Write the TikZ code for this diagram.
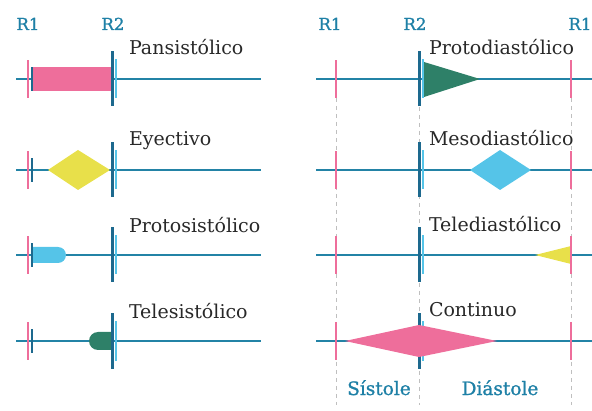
\documentclass[tikz,border=0pt]{standalone}
\usepackage{fontspec}
\setmainfont{DejaVu Serif}
\newfontfamily\labelfont[FakeBold=1.2]{DejaVu Serif}
\usepackage{tikz}
\usetikzlibrary{positioning}
\definecolor{axisblue}{RGB}{35,131,166}
\definecolor{darktick}{RGB}{29,105,142}
\definecolor{lightblue}{RGB}{85,196,232}
\definecolor{murmurpink}{RGB}{238,110,155}
\definecolor{murmuryellow}{RGB}{232,224,74}
\definecolor{murmurgreen}{RGB}{46,128,104}
\definecolor{labelteal}{RGB}{30,128,166}
\definecolor{nametext}{RGB}{40,40,40}
\pgfdeclarelayer{background}
\pgfsetlayers{background,main}
\tikzset{
  phonopic/.style={
    x=1pt,y=1pt
    ,inner sep=0pt
    ,outer sep=0pt
  }
  ,axis/.style={draw=axisblue,line width=2pt}
  ,guide/.style={draw=black!25,line width=.6pt,dash pattern=on 4pt off 4pt}
  ,tickbar/.style={rectangle,inner sep=0pt,outer sep=0pt}
  ,rone/.style={tickbar,fill=murmurpink,minimum width=1.5pt,minimum height=38pt}
  ,ronedark/.style={tickbar,fill=darktick,minimum width=2.5pt,minimum height=24pt}
  ,rtwo/.style={tickbar,fill=darktick,minimum width=3pt,minimum height=55pt}
  ,rtwolight/.style={tickbar,fill=lightblue,minimum width=2.8pt,minimum height=39pt}
  ,rlabel/.style={anchor=base,font=\labelfont\fontsize{16.5}{18}\selectfont\color{labelteal}}
  ,phaselabel/.style={anchor=base,font=\labelfont\fontsize{18.5}{20}\selectfont\color{labelteal}}
  ,murmurname/.style={anchor=base west,font=\fontsize{19}{21}\selectfont\color{nametext}}
}

\begin{document}
\begin{tikzpicture}[phonopic]
  \useasboundingbox (0,0) rectangle (592,410);

  % heading marks
  \node[rlabel] (sysr1) at (28,380) {R1};
  \node[rlabel] (sysr2) at (113,380) {R2};
  \node[rlabel] (diar1) at (330,380) {R1};
  \node[rlabel] (diar2) at (415,380) {R2};
  \node[rlabel] (diar1b) at (580,380) {R1};

  % guides through the cycle
  \coordinate (g1top) at (336,312); \coordinate (g1bot) at (336,5);
  \coordinate (g2top) at (419,303); \coordinate (g2bot) at (419,5);
  \coordinate (g3top) at (571,312); \coordinate (g3bot) at (571,5);
  \begin{pgfonlayer}{background}
    \draw[guide] (g1top) -- (g1bot);
    \draw[guide] (g2top) -- (g2bot);
    \draw[guide] (g3top) -- (g3bot);
  \end{pgfonlayer}

  % pansistolico
  \coordinate (pan0) at (16,331); \coordinate (pan1) at (261,331);
  \draw[axis] (pan0) -- (pan1);
  \fill[murmurpink] (33,319) rectangle (111,343);
  \node[rone] (panr1) at (28,331) {};
  \node[ronedark] (panr1d) at (32,331) {};
  \node[rtwolight] (panr2l) at (116,331) {};
  \node[rtwo] (panr2) at (112,331) {};
  \node[murmurname] (panname) at (129,355) {Pansistólico};

  % eyectivo
  \coordinate (eye0) at (16,240); \coordinate (eye1) at (261,240);
  \draw[axis] (eye0) -- (eye1);
  \fill[murmuryellow] (48,240) -- (78,260) -- (110,240) -- (78,220) -- cycle;
  \node[rone] (eyer1) at (28,240) {};
  \node[ronedark] (eyer1d) at (32,240) {};
  \node[rtwolight] (eyer2l) at (116,240) {};
  \node[rtwo] (eyer2) at (112,240) {};
  \node[murmurname] (eyename) at (129,264) {Eyectivo};

  % protosistolico
  \coordinate (prs0) at (16,155); \coordinate (prs1) at (261,155);
  \draw[axis] (prs0) -- (prs1);
  \fill[lightblue] (33,147) -- (33,163) -- (58,163)
    arc[start angle=90,end angle=-90,radius=8] -- cycle;
  \node[rone] (prsr1) at (28,155) {};
  \node[ronedark] (prsr1d) at (32,155) {};
  \node[rtwolight] (prsr2l) at (116,155) {};
  \node[rtwo] (prsr2) at (112,155) {};
  \node[murmurname] (prsname) at (129,177) {Protosistólico};

  % telesistolico
  \coordinate (tes0) at (16,69); \coordinate (tes1) at (261,69);
  \draw[axis] (tes0) -- (tes1);
  \fill[murmurgreen] (111,60) -- (98,60)
    arc[start angle=270,end angle=90,radius=9] -- (111,78) -- cycle;
  \node[rone] (tesr1) at (28,69) {};
  \node[ronedark] (tesr1d) at (32,69) {};
  \node[rtwolight] (tesr2l) at (116,69) {};
  \node[rtwo] (tesr2) at (112,69) {};
  \node[murmurname] (tesname) at (129,91) {Telesistólico};

  % protodiastolico
  \coordinate (prd0) at (316,331); \coordinate (prd1) at (592,331);
  \draw[axis] (prd0) -- (prd1);
  \node[rone] (prdr1) at (336,331) {};
  \node[rtwolight] (prdr2l) at (423,331) {};
  \node[rtwo] (prdr2) at (419,331) {};
  \fill[murmurgreen] (424,313) -- (424,348) -- (480,331) -- cycle;
  \node[rone] (prdr1b) at (571,331) {};
  \node[murmurname] (prdname) at (429,355) {Protodiastólico};

  % mesodiastolico
  \coordinate (mes0) at (316,240); \coordinate (mes1) at (592,240);
  \draw[axis] (mes0) -- (mes1);
  \fill[lightblue] (470,240) -- (500,260) -- (531,240) -- (500,220) -- cycle;
  \node[rone] (mesr1) at (336,240) {};
  \node[rtwolight] (mesr2l) at (423,240) {};
  \node[rtwo] (mesr2) at (419,240) {};
  \node[rone] (mesr1b) at (571,240) {};
  \node[murmurname] (mesname) at (429,264) {Mesodiastólico};

  % telediastolico
  \coordinate (ted0) at (316,155); \coordinate (ted1) at (592,155);
  \draw[axis] (ted0) -- (ted1);
  \fill[murmuryellow] (535,155) -- (571,164) -- (571,146) -- cycle;
  \node[rone] (tedr1) at (336,155) {};
  \node[rtwolight] (tedr2l) at (423,155) {};
  \node[rtwo] (tedr2) at (419,155) {};
  \node[rone] (tedr1b) at (571,155) {};
  \node[murmurname] (tedname) at (429,178) {Telediastólico};

  % continuo
  \coordinate (con0) at (316,69); \coordinate (con1) at (592,69);
  \draw[axis] (con0) -- (con1);
  \node[rone] (conr1) at (336,69) {};
  \node[rtwolight] (conr2l) at (423,69) {};
  \node[rtwo] (conr2) at (419,69) {};
  \node[rone] (conr1b) at (571,69) {};
  \fill[murmurpink] (345,69) -- (419,85) -- (497,69) -- (419,53) -- cycle;
  \node[murmurname] (conname) at (429,93) {Continuo};

  % phases
  \node[phaselabel] (sistole) at (379,15) {Sístole};
  \node[phaselabel] (diastole) at (500,15) {Diástole};
\end{tikzpicture}
\end{document}
